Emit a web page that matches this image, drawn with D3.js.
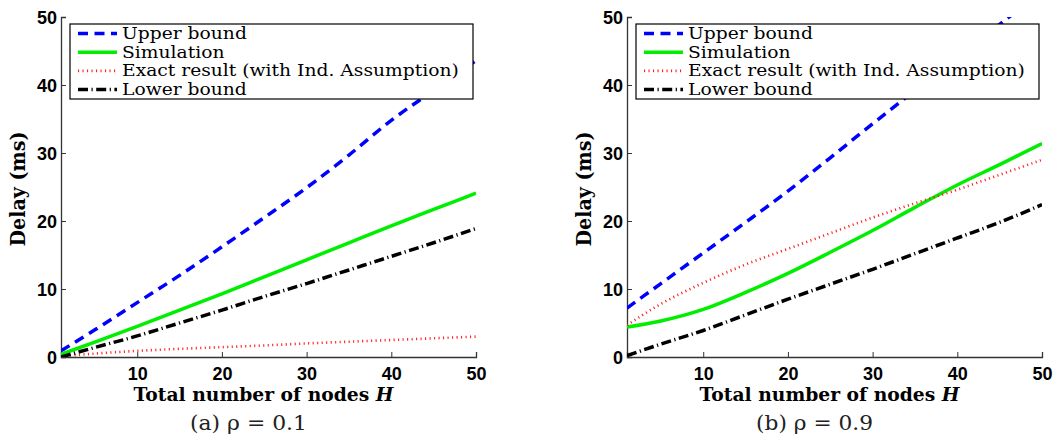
<!DOCTYPE html>
<html>
<head>
<meta charset="utf-8">
<script src="https://cdn.jsdelivr.net/npm/d3@7"></script>
<style>
  body { margin: 0; background: #fff; }
  svg { display: block; }
  .tick-label { font-family: "Liberation Sans", Arial, sans-serif; font-weight: bold; font-size: 18px; fill: #000; }
  .axis-title { font-family: "DejaVu Serif", serif; font-weight: bold; fill: #000; }
  .legend-text { font-family: "DejaVu Serif", serif; font-size: 16px; fill: #000; }
  .caption { font-family: "DejaVu Serif", serif; font-size: 20px; fill: #222; }
</style>
</head>
<body>
<svg id="chart" width="1057" height="437"></svg>
<script>
// number of nodes H (x values shared by every series)
const nodes = [1, 5, 10, 15, 20, 25, 30, 35, 40, 45, 50];

// (a) rho = 0.1
const upperA = [0.9, 4.0, 8.0, 12.0, 16.2, 20.5, 24.9, 29.7, 34.8, 39.2, 43.6];
const simA   = [0.4, 2.2, 4.5, 6.9, 9.3, 11.8, 14.3, 16.8, 19.3, 21.7, 24.1];
const exactA = [0.1, 0.5, 0.9, 1.2, 1.45, 1.7, 2.0, 2.25, 2.5, 2.75, 3.0];
const lowerA = [0.0, 1.4, 3.1, 5.0, 6.9, 8.9, 10.8, 12.8, 14.8, 16.8, 18.9];

// (b) rho = 0.9
const upperB = [7.2, 10.8, 15.3, 19.8, 24.4, 29.3, 34.3, 39.2, 44.0, 48.9, 53.8];
const simB   = [4.4, 5.3, 7.0, 9.5, 12.3, 15.4, 18.6, 22.0, 25.3, 28.3, 31.4];
const exactB = [4.7, 7.8, 10.9, 13.6, 15.9, 18.2, 20.5, 22.6, 24.6, 26.8, 29.0];
const lowerB = [0.2, 1.9, 3.9, 6.2, 8.5, 10.7, 12.9, 15.2, 17.5, 19.8, 22.4];

const xTicks = [10, 20, 30, 40, 50];
const yTicks = [0, 10, 20, 30, 40, 50];
const seriesNames = ['Upper bound', 'Simulation', 'Exact result (with Ind. Assumption)', 'Lower bound'];
const xTitle = 'Total number of nodes ';
const yTitle = 'Delay (ms)';
const captions = ['(a) ρ = 0.1', '(b) ρ = 0.9'];

// line styles in legend order
const styles = [
  { color: '#0000ff', width: 3.5, dash: '10,6.5' },
  { color: '#00ee00', width: 3.5, dash: null },
  { color: '#ff2020', width: 2.6, dash: '1.1,3.4' },
  { color: '#000000', width: 3.5, dash: '10,3.5,1.2,3.5' }
];

const svg = d3.select('#chart');

// the original typesetting is wider than our fonts, stretch text to a target width
function stretch(sel, target) {
  const w = sel.node().getComputedTextLength();
  return target / w;
}

function panel(id, left, series, caption) {
  const width = 415, top = 17, bottom = 357;
  const x = d3.scaleLinear().domain([1, 50]).range([left, left + width]);
  const y = d3.scaleLinear().domain([0, 50]).range([bottom, top]);

  const g = svg.append('g');

  g.append('clipPath').attr('id', 'clip' + id)
    .append('rect')
      .attr('x', left).attr('y', top)
      .attr('width', width).attr('height', bottom - top);

  // axes, matlab style ticks pointing inside
  const xAxis = g.append('g')
      .attr('transform', 'translate(0,' + bottom + ')')
      .call(d3.axisBottom(x).tickValues(xTicks).tickSize(-5).tickPadding(10));
  const yAxis = g.append('g')
      .attr('transform', 'translate(' + left + ',0)')
      .call(d3.axisLeft(y).tickValues(yTicks).tickSize(-5).tickPadding(4));

  [xAxis, yAxis].forEach(a => {
    a.select('.domain').attr('stroke', '#333').attr('stroke-width', 1.3);
    a.selectAll('.tick line').attr('stroke', '#333');
    a.selectAll('.tick text').attr('class', 'tick-label');
    a.attr('font-size', null).attr('font-family', null);
  });
  xAxis.selectAll('.tick text').attr('dy', '0.71em');
  yAxis.selectAll('.tick text').attr('dy', '0.36em');

  // curves
  const line = d3.line()
      .x((d, i) => x(nodes[i]))
      .y(d => y(d))
      .curve(d3.curveMonotoneX);

  const curves = g.append('g').attr('clip-path', 'url(#clip' + id + ')');
  series.forEach((s, i) => {
    curves.append('path')
        .datum(s)
        .attr('d', line)
        .attr('fill', 'none')
        .attr('stroke', styles[i].color)
        .attr('stroke-width', styles[i].width)
        .attr('stroke-dasharray', styles[i].dash);
  });

  // legend box
  const lx = left + 9, ly = 24, lw = 403, lh = 75;
  const legend = g.append('g');
  legend.append('rect')
      .attr('x', lx).attr('y', ly)
      .attr('width', lw).attr('height', lh)
      .attr('fill', '#fff')
      .attr('stroke', '#000')
      .attr('stroke-width', 1.2);

  const labels = [];
  seriesNames.forEach((name, i) => {
    const ry = ly + 9.5 + i * 18.7;
    legend.append('line')
        .attr('x1', lx + 8).attr('x2', lx + 47)
        .attr('y1', ry).attr('y2', ry)
        .attr('stroke', styles[i].color)
        .attr('stroke-width', styles[i].width)
        .attr('stroke-dasharray', styles[i].dash);
    labels.push(legend.append('text')
        .attr('class', 'legend-text')
        .attr('data-x', lx + 52).attr('data-y', ry + 5.5)
        .text(name));
  });
  const k = stretch(labels[2], 337);
  labels.forEach(t => t.attr('transform',
      'translate(' + t.attr('data-x') + ',' + t.attr('data-y') + ') scale(' + k + ',1)'));

  // x title
  const xt = g.append('text')
      .attr('class', 'axis-title')
      .attr('font-size', 18.5)
      .attr('text-anchor', 'middle')
      .text(xTitle);
  xt.append('tspan').attr('font-style', 'italic').text('H');
  const kx = stretch(xt, 260);
  xt.attr('transform', 'translate(' + (left + width / 2 - 5) + ',401) scale(' + kx + ',1)');

  // y title
  const yt = g.append('text')
      .attr('class', 'axis-title')
      .attr('font-size', 20)
      .attr('text-anchor', 'middle')
      .text(yTitle);
  const ky = stretch(yt, 115);
  yt.attr('transform', 'translate(' + (left - 36) + ',' + ((top + bottom) / 2 + 2) + ') rotate(-90) scale(' + ky + ',1)');

  // caption
  const ct = g.append('text')
      .attr('class', 'caption')
      .attr('text-anchor', 'middle')
      .text(caption);
  const kc = stretch(ct, 117);
  ct.attr('transform', 'translate(' + (left + width / 2 - 20) + ',430) scale(' + kc + ',1)');
}

panel('a', 61, [upperA, simA, exactA, lowerA], captions[0]);
panel('b', 627, [upperB, simB, exactB, lowerB], captions[1]);
</script>
</body>
</html>
